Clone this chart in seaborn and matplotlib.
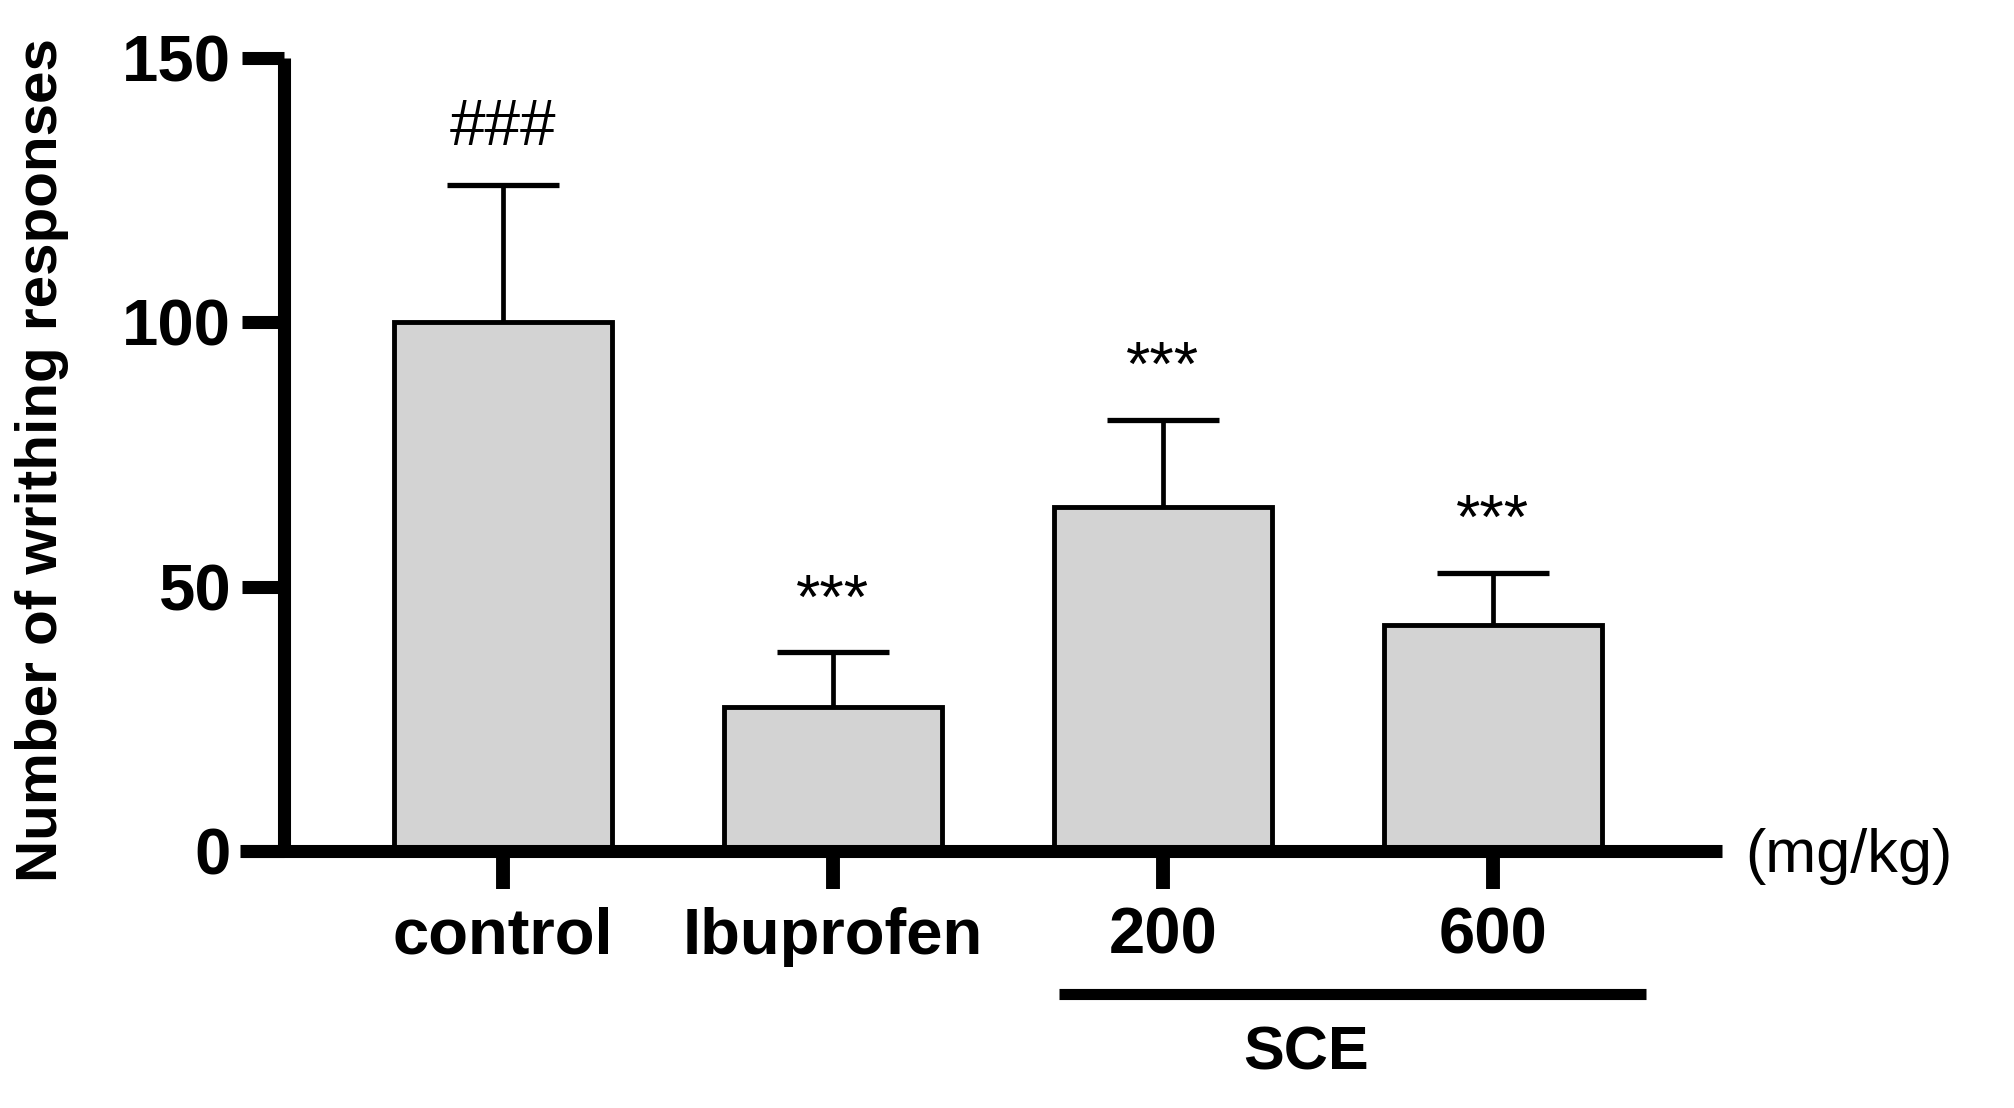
import numpy as np
import pandas as pd
import seaborn as sns
import matplotlib
matplotlib.use("Agg")
import matplotlib.pyplot as plt
from matplotlib.transforms import blended_transform_factory

# ---- data ----
groups = ["control", "Ibuprofen", "200", "600"]
means = [100.0, 27.2, 65.1, 42.7]
sems = [26.0, 10.4, 16.5, 9.9]
marks = ["###", "***", "***", "***"]
yticks = [0, 50, 100, 150]
unit_label = "(mg/kg)"
group_label = "SCE"
ylabel = "Number of writhing responses"

sns.set_theme(style="ticks", rc={
    "axes.edgecolor": "black", "text.color": "black",
    "axes.labelcolor": "black", "xtick.color": "black", "ytick.color": "black",
})
plt.rcParams["font.family"] = ["Liberation Sans", "DejaVu Sans"]
plt.rcParams["axes.linewidth"] = 9.4

W, H = 2015, 1108
fig = plt.figure(figsize=(W / 100, H / 100), dpi=100)
ax = fig.add_axes([240 / W, 1 - 851 / H, 1482 / W, (851 - 58) / H])

df = pd.DataFrame({"group": groups, "value": means})
sns.barplot(data=df, x="group", y="value", order=groups, color="#D3D3D3",
            saturation=1, edgecolor="black", linewidth=3.5, width=0.66,
            errorbar=None, ax=ax, zorder=2)
ax.errorbar(np.arange(len(groups)), means, yerr=sems, fmt="none",
            ecolor="black", elinewidth=3.4, capsize=40, capthick=3.8, zorder=1)

for i, (m, s, t) in enumerate(zip(means, sems, marks)):
    off = 29 if t.startswith("#") else 25
    fs = 46 if t.startswith("#") else 45
    ax.annotate(t, xy=(i, m + s), xytext=(0, off), textcoords="offset points",
                ha="center", va="baseline", fontsize=fs, color="black")

ax.set_ylim(0, 150)
ax.set_xlim(-0.797, 3.694)
ax.set_yticks(yticks)
ax.spines["left"].set_position(("data", -0.664))
ax.spines["left"].set_bounds(0, 150)
ax.spines["right"].set_visible(False)
ax.spines["top"].set_visible(False)
for sp in ("left", "bottom"):
    ax.spines[sp].set_linewidth(9.4)
    ax.spines[sp].set_color("black")
    ax.spines[sp].set_capstyle("butt")
ax.tick_params(axis="y", length=30, width=9.4, pad=8, labelsize=47, colors="black")
ax.tick_params(axis="x", length=27, width=10, pad=13, labelsize=47, colors="black")
for lab in ax.get_xticklabels() + ax.get_yticklabels():
    lab.set_fontweight("bold")
ax.set_xlabel("")
ax.set_ylabel("")

fig.text(42 / W, 1 - 460 / H, ylabel, rotation=90, ha="center", va="center",
         fontsize=42, fontweight="bold")
fig.text(1745 / W, 1 - 872 / H, unit_label, ha="left", va="baseline", fontsize=44)

tr = blended_transform_factory(ax.transData, fig.transFigure)
ax.plot([1.685, 3.464], [1 - 994 / H, 1 - 994 / H], color="black", lw=8,
        transform=tr, clip_on=False, solid_capstyle="butt")
ax.text(2.433, 1 - 1069 / H, group_label, transform=tr, ha="center",
        va="baseline", fontsize=44, fontweight="bold")

fig.savefig("out.png", dpi=100)
